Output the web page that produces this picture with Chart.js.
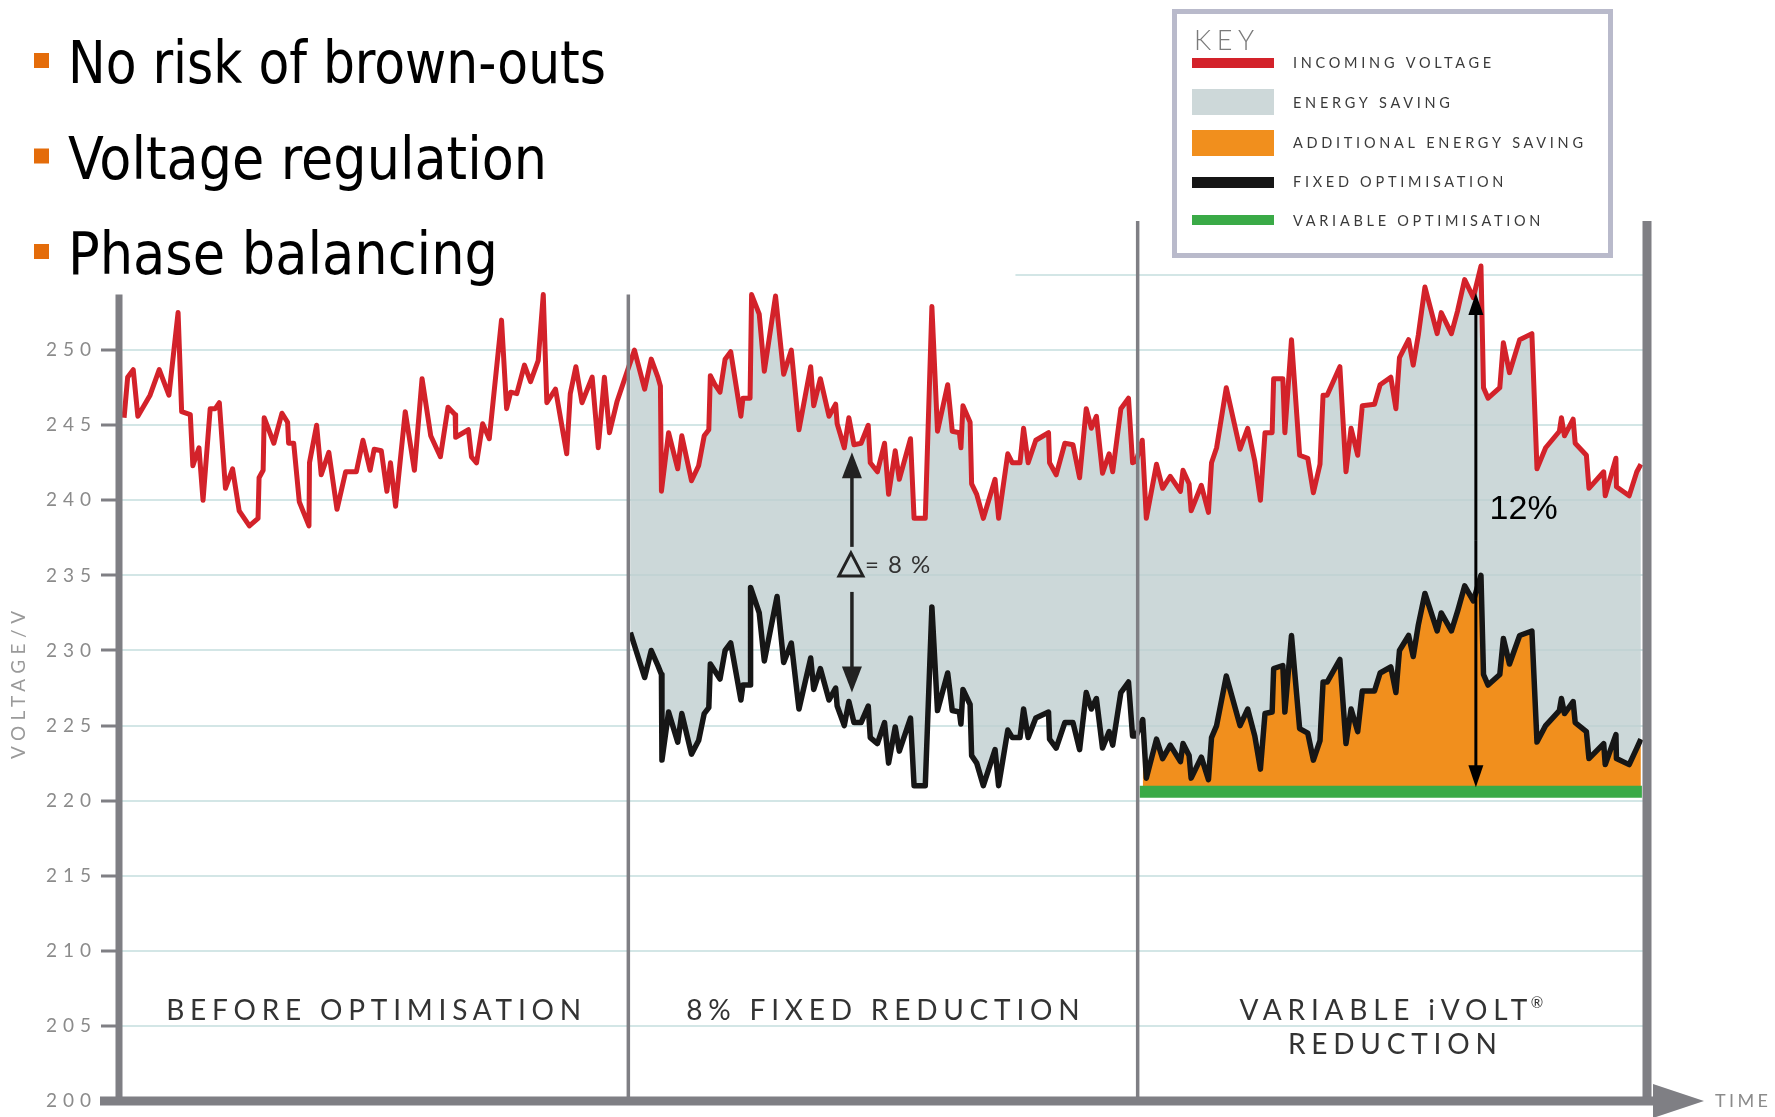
<!DOCTYPE html>
<html>
<head>
<meta charset="utf-8">
<script src="https://cdn.jsdelivr.net/npm/chart.js@4.4.1/dist/chart.umd.min.js"></script>
<style>
  html, body { margin: 0; padding: 0; background: #fff; }
</style>
</head>
<body>
<canvas id="grafico" width="1775" height="1117"></canvas>
<script>
// time axis: 0-100 before optimisation, 100-200 fixed reduction, 200-300 variable reduction
var incoming = [
  [1.0,245.5],[1.7,248.2],[2.8,248.7],[3.7,245.6],[6.1,247.0],[7.9,248.7],[9.8,247.0],[11.6,252.5],[12.3,245.9],[14.0,245.7],
  [14.5,242.3],[15.7,243.5],[16.5,240.0],[17.9,246.1],[18.9,246.1],[19.7,246.5],[20.9,240.8],[22.3,242.1],[23.6,239.3],[25.6,238.3],
  [27.3,238.8],[27.5,241.5],[28.3,242.0],[28.5,245.5],[30.4,243.8],[32.0,245.8],[33.1,245.2],[33.3,243.8],[34.3,243.8],[35.4,239.9],
  [37.3,238.3],[37.4,242.5],[38.8,245.0],[39.7,241.7],[41.2,243.2],[42.8,239.4],[44.5,241.9],[46.6,241.9],[47.9,244.0],[49.3,242.0],
  [50.1,243.4],[51.5,243.3],[52.6,240.6],[53.3,242.5],[54.3,239.6],[56.2,245.9],[58.0,242.0],[59.5,248.1],[61.2,244.3],[63.1,242.9],
  [64.6,246.2],[66.0,245.7],[66.1,244.2],[68.6,244.7],[69.2,242.9],[70.2,242.5],[71.4,245.1],[72.7,244.1],[75.1,252.0],[76.1,246.1],
  [76.9,247.2],[78.1,247.1],[79.6,249.0],[80.8,247.9],[82.3,249.3],[83.3,253.7],[84.0,246.5],[85.7,247.4],[87.9,243.1],[88.6,247.1],
  [89.7,248.9],[90.9,246.5],[92.9,248.2],[94.1,243.5],[95.3,248.2],[96.3,244.5],[97.8,246.6],[99.9,248.7],
  [101.2,250.0],[103.2,247.4],[104.5,249.4],[105.8,248.2],[106.3,247.6],[106.5,240.6],[107.9,244.5],[109.7,242.1],[110.5,244.3],[112.4,241.3],
  [113.8,242.3],[114.9,244.3],[115.8,244.7],[116.1,248.3],[117.0,247.7],[118.0,247.2],[119.0,249.4],[120.1,249.9],[122.1,245.6],[122.5,246.8],
  [123.9,246.8],[124.2,253.7],[125.7,252.4],[126.7,248.6],[128.9,253.6],[130.5,248.4],[132.0,250.0],[133.5,244.7],[135.8,248.9],[136.4,246.3],
  [137.7,248.1],[139.4,245.6],[140.7,246.4],[141.0,245.1],[142.4,243.5],[143.3,245.5],[144.3,243.7],[145.7,243.8],[147.1,245.0],[147.5,242.5],
  [148.9,241.9],[150.3,243.8],[151.1,240.4],[152.4,243.3],[153.2,241.4],[155.4,244.1],[156.1,238.8],[158.3,238.8],[159.6,252.9],[160.7,244.6],
  [162.7,247.7],[163.6,244.6],[165.0,244.5],[165.3,243.5],[165.7,246.3],[167.1,245.2],[167.4,241.1],[168.4,240.4],[169.7,238.8],[172.0,241.4],
  [172.7,238.8],[174.5,243.1],[175.4,242.5],[176.9,242.5],[177.6,244.8],[178.5,242.5],[180.0,244.0],[182.5,244.5],[182.7,242.5],[184.0,241.7],
  [185.7,243.8],[187.3,243.7],[188.6,241.5],[189.9,246.1],[190.9,244.8],[191.9,245.6],[193.1,241.8],[194.4,243.1],[195.1,241.9],[196.7,246.1],
  [198.2,246.8],[199.0,242.5],[199.7,242.6],
  [200.9,244.0],[201.7,238.8],[203.7,242.4],[204.9,240.8],[206.4,241.6],[208.4,240.6],[208.9,242.0],[210.1,241.1],[210.5,239.3],[212.5,241.0],
  [213.9,239.2],[214.5,242.5],[215.5,243.5],[217.4,247.5],[220.1,243.4],[221.6,244.8],[223.0,242.6],[224.1,240.0],[225.0,244.5],[226.4,244.5],
  [226.7,248.1],[228.5,248.1],[228.9,244.5],[230.2,250.7],[231.8,243.0],[233.4,242.8],[234.5,240.5],[235.8,242.4],[236.4,247.0],[237.2,247.0],
  [239.7,248.9],[240.9,241.9],[241.9,244.8],[243.2,243.0],[244.1,246.3],[246.5,246.4],[247.6,247.7],[249.7,248.2],[250.7,246.1],[251.4,249.5],
  [253.2,250.7],[254.1,249.0],[255.1,251.0],[256.4,254.2],[258.8,251.1],[259.6,252.5],[261.6,251.1],[262.8,252.6],[264.2,254.7],[265.9,253.5],
  [267.4,255.6],[267.9,247.5],[268.8,246.8],[271.1,247.5],[271.8,250.5],[273.0,248.5],[275.0,250.7],[277.4,251.1],[278.4,242.1],[280.1,243.5],
  [282.8,244.6],[283.2,245.5],[283.8,244.3],[285.5,245.4],[285.9,243.8],[288.1,243.0],[288.6,240.8],[291.5,241.9],[291.8,240.3],[293.9,242.8],
  [294.0,240.9],[296.5,240.3],[298.0,241.9],[298.8,242.4]
];

var fixedOpt = [
  [100.4,231.2],[103.2,228.2],[104.5,230.0],[105.8,229.0],[106.5,228.4],[106.6,222.7],[107.9,225.9],[109.7,223.9],[110.5,225.8],[112.4,223.1],
  [113.8,224.0],[114.9,225.8],[115.8,226.2],[116.1,229.1],[118.0,228.1],[119.0,230.0],[120.1,230.5],[122.1,226.7],[122.5,227.7],[123.9,227.7],
  [124.0,234.2],[125.7,232.5],[126.7,229.3],[129.2,233.6],[130.5,229.2],[132.0,230.5],[133.5,226.1],[135.8,229.5],[136.4,227.4],[137.7,228.8],
  [139.4,226.7],[140.7,227.5],[141.0,226.3],[142.4,225.0],[143.3,226.6],[144.3,225.2],[145.7,225.2],[147.1,226.3],[147.5,224.2],[148.9,223.8],
  [150.3,225.2],[151.1,222.5],[152.4,224.9],[153.2,223.3],[155.4,225.5],[156.1,221.0],[158.3,221.0],[159.6,232.9],[160.7,226.0],[162.7,228.5],
  [163.6,226.0],[165.0,225.9],[165.3,225.1],[165.7,227.4],[167.1,226.4],[167.4,223.0],[168.4,222.5],[169.7,221.0],[172.0,223.4],[172.7,221.0],
  [174.5,224.7],[175.4,224.2],[176.9,224.2],[177.6,226.1],[178.5,224.2],[180.0,225.5],[182.5,225.9],[182.7,224.1],[184.0,223.5],[185.7,225.2],
  [187.3,225.2],[188.6,223.4],[189.9,227.2],[190.9,226.1],[191.9,226.8],[193.1,223.5],[194.4,224.6],[195.1,223.7],[196.7,227.2],[198.2,227.9],
  [199.0,224.3],[199.7,224.3],
  [201.0,225.4],[201.7,221.5],[203.7,224.1],[204.9,222.8],[206.4,223.7],[208.4,222.6],[208.9,223.8],[210.1,223.0],[210.5,221.5],[212.5,222.9],
  [213.9,221.4],[214.5,224.2],[215.5,225.0],[217.4,228.3],[220.1,225.0],[221.6,226.1],[223.0,224.3],[224.1,222.1],[225.0,225.8],[226.4,225.9],
  [226.7,228.8],[228.5,229.0],[228.9,225.9],[230.2,231.0],[231.8,224.8],[233.4,224.5],[234.5,222.7],[235.8,224.0],[236.4,227.9],[237.2,227.9],
  [239.7,229.4],[240.9,223.8],[241.9,226.1],[243.2,224.6],[244.1,227.3],[246.5,227.3],[247.6,228.5],[249.7,228.9],[250.7,227.2],[251.4,230.0],
  [253.2,231.0],[254.1,229.6],[255.1,231.7],[256.4,233.8],[258.8,231.3],[259.6,232.5],[261.6,231.3],[262.8,232.6],[264.2,234.3],[265.9,233.3],
  [267.4,235.0],[267.9,228.4],[268.8,227.7],[271.1,228.4],[271.8,230.8],[273.0,229.1],[275.0,231.0],[277.4,231.3],[278.4,223.9],[280.1,225.0],
  [282.8,226.0],[283.2,226.8],[283.8,225.8],[285.5,226.6],[285.9,225.2],[288.1,224.6],[288.6,222.8],[291.5,223.8],[291.8,222.4],[293.9,224.4],
  [294.0,222.8],[296.5,222.4],[298.0,223.5],[298.8,224.1]
];

var variableLevel = 220.6;
var variableSpan = [200.4, 299.0];

var voltTicks = [200, 205, 210, 215, 220, 225, 230, 235, 240, 245, 250];
var sectionNames = [['BEFORE OPTIMISATION'], ['8% FIXED REDUCTION'], ['VARIABLE iVOLT®', 'REDUCTION']];
var sectionMid = [50, 150, 250];
var bullets = ['No risk of brown-outs', 'Voltage regulation', 'Phase balancing'];
var bulletWidth = [538, 479, 430];
var keyLabels = ['INCOMING VOLTAGE', 'ENERGY SAVING', 'ADDITIONAL ENERGY SAVING', 'FIXED OPTIMISATION', 'VARIABLE OPTIMISATION'];

var RED = '#d3222a', BLACK = '#161616', GREEN = '#3aaa47', ORANGE = '#f18f1d', GREY = '#cdd8d9';
var AXIS = '#7f7f84';
var keyColors = [RED, GREY, ORANGE, BLACK, GREEN];

function toXY(p) { return { x: p[0], y: p[1] }; }

function spacedWidth(ctx, text, sp) {
  ctx.letterSpacing = '0px';
  return ctx.measureText(text).width + sp * (text.length - 1);
}
function fitSpacing(ctx, text, target) {
  ctx.letterSpacing = '0px';
  return (target - ctx.measureText(text).width) / (text.length - 1);
}
function drawSpaced(ctx, text, x, y, sp, align) {
  var w = spacedWidth(ctx, text, sp);
  var x0 = align === 'center' ? x - w / 2 : (align === 'right' ? x - w : x);
  ctx.letterSpacing = sp + 'px';
  ctx.textAlign = 'left';
  ctx.fillText(text, x0, y);
  ctx.letterSpacing = '0px';
  return x0 + w;
}
function arrow(ctx, x, y1, y2, lw, hw, hl) {
  var dir = y2 > y1 ? 1 : -1;
  ctx.lineWidth = lw;
  ctx.beginPath();
  ctx.moveTo(x, y1);
  ctx.lineTo(x, y2 - dir * hl * 0.8);
  ctx.stroke();
  ctx.beginPath();
  ctx.moveTo(x, y2);
  ctx.lineTo(x - hw / 2, y2 - dir * hl);
  ctx.lineTo(x + hw / 2, y2 - dir * hl);
  ctx.closePath();
  ctx.fill();
}
function vline(ctx, x, y1, y2, lw) {
  ctx.lineWidth = lw;
  ctx.beginPath();
  ctx.moveTo(x, y1);
  ctx.lineTo(x, y2);
  ctx.stroke();
}

var decor = {
  id: 'decor',
  beforeDraw: function(chart) {
    // spaced-out tick labels like the original artwork
    chart.ctx.letterSpacing = '6px';
  },
  beforeDatasetsDraw: function(chart) {
    var ctx = chart.ctx, x = chart.scales.x, y = chart.scales.y;
    ctx.save();
    ctx.strokeStyle = '#d3e6e6';
    ctx.lineWidth = 2;
    ctx.beginPath();
    ctx.moveTo(x.getPixelForValue(176), y.getPixelForValue(255));
    ctx.lineTo(x.getPixelForValue(300), y.getPixelForValue(255));
    ctx.stroke();
    ctx.restore();
  },
  afterDatasetsDraw: function(chart) {
    var ctx = chart.ctx, x = chart.scales.x, y = chart.scales.y;
    var xp = function(t) { return x.getPixelForValue(t); };
    var yp = function(v) { return y.getPixelForValue(v); };
    var base = yp(200);
    ctx.save();
    ctx.letterSpacing = '0px';

    // axes and section dividers
    ctx.strokeStyle = AXIS;
    ctx.fillStyle = AXIS;
    vline(ctx, xp(0), yp(253.7), base + 4, 7);
    vline(ctx, xp(100), yp(253.7), base, 3.5);
    vline(ctx, xp(200), chart.chartArea.top, base, 3.5);
    vline(ctx, xp(300), chart.chartArea.top, base, 9);
    ctx.fillRect(100, base - 4.5, xp(300) + 8 - 100, 9);
    ctx.beginPath();
    ctx.moveTo(xp(300) + 6, base - 17);
    ctx.lineTo(xp(300) + 57, base);
    ctx.lineTo(xp(300) + 6, base + 17);
    ctx.closePath();
    ctx.fill();

    ctx.font = '400 18px Lato';
    ctx.fillStyle = '#8b8b8b';
    ctx.textBaseline = 'middle';
    drawSpaced(ctx, 'TIME', 1715, base, fitSpacing(ctx, 'TIME', 53), 'left');

    ctx.save();
    ctx.translate(19, 685);
    ctx.rotate(-Math.PI / 2);
    ctx.font = '400 19px Lato';
    ctx.fillStyle = '#9a9a9a';
    drawSpaced(ctx, 'VOLTAGE/V', 0, 0, fitSpacing(ctx, 'VOLTAGE/V', 148), 'center');
    ctx.restore();

    // section labels
    ctx.font = '400 28px Lato';
    ctx.fillStyle = '#333';
    var sp = fitSpacing(ctx, sectionNames[0][0], 415);
    sectionNames.forEach(function(lines, i) {
      lines.forEach(function(txt, j) {
        var ly = yp(206.0) + j * 34;
        if (txt.slice(-1) === '®') {
          var main = txt.slice(0, -1);
          var w = spacedWidth(ctx, main, sp) + sp + 12;
          var end = drawSpaced(ctx, main, xp(sectionMid[i]) - w / 2, ly, sp, 'left');
          ctx.font = '400 15px Lato';
          ctx.fillText('®', end + sp * 0.6, ly - 8);
          ctx.font = '400 28px Lato';
        } else {
          drawSpaced(ctx, txt, xp(sectionMid[i]), ly, sp, 'center');
        }
      });
    });

    // 8% arrows
    var ax = xp(143.9);
    ctx.strokeStyle = '#222';
    ctx.fillStyle = '#222';
    arrow(ctx, ax, yp(236.9), yp(243.2), 3.5, 20, 26);
    arrow(ctx, ax, yp(233.9), yp(227.2), 3.5, 20, 26);
    var ty = yp(235.7);
    ctx.lineWidth = 3;
    ctx.beginPath();
    ctx.moveTo(ax - 1, ty - 12);
    ctx.lineTo(ax + 11, ty + 11);
    ctx.lineTo(ax - 13, ty + 11);
    ctx.closePath();
    ctx.stroke();
    ctx.font = '400 24px Lato';
    ctx.fillStyle = '#333';
    drawSpaced(ctx, '= 8 %', ax + 13, ty, 1.5, 'left');

    // 12% arrow
    var bx = xp(266.4);
    ctx.strokeStyle = '#000';
    ctx.fillStyle = '#000';
    var mid = (yp(220.9) + yp(253.8)) / 2;
    arrow(ctx, bx, mid, yp(253.8), 3, 15, 22);
    arrow(ctx, bx, mid, yp(220.9), 3, 15, 22);
    ctx.font = '400 34px "Liberation Sans"';
    ctx.textAlign = 'left';
    ctx.fillText('12%', xp(269.1), yp(239.4));
    ctx.restore();
  },
  afterDraw: function(chart) {
    var ctx = chart.ctx;
    ctx.save();
    ctx.letterSpacing = '0px';

    // bullet list
    ctx.font = '59px "DejaVu Sans Condensed", "DejaVu Sans"';
    bullets.forEach(function(b, i) {
      var bl = 83 + i * 95.5;
      var sx = bulletWidth[i] / ctx.measureText(b).width;
      ctx.fillStyle = '#e46c0a';
      ctx.fillRect(34, bl - 30, 15, 15);
      ctx.save();
      ctx.translate(68, bl);
      ctx.scale(sx, 1);
      ctx.fillStyle = '#000';
      ctx.textBaseline = 'alphabetic';
      ctx.textAlign = 'left';
      ctx.fillText(b, 0, 0);
      ctx.restore();
    });

    // key box
    ctx.fillStyle = '#fff';
    ctx.fillRect(1174.5, 11.5, 436, 244);
    ctx.strokeStyle = '#b9bacb';
    ctx.lineWidth = 5;
    ctx.strokeRect(1174.5, 11.5, 436, 244);
    ctx.textBaseline = 'middle';
    ctx.font = '300 27px Lato';
    ctx.fillStyle = '#7a7a7a';
    drawSpaced(ctx, 'KEY', 1194, 41, fitSpacing(ctx, 'KEY', 60), 'left');

    var swatch = [[58, 10], [89, 26], [130, 26], [177, 11], [215, 10]];
    var labelY = [63, 103, 143, 182, 221];
    ctx.font = '400 14.5px Lato';
    var ksp = fitSpacing(ctx, keyLabels[2], 290);
    keyLabels.forEach(function(lbl, i) {
      ctx.fillStyle = keyColors[i];
      ctx.fillRect(1192, swatch[i][0], 82, swatch[i][1]);
      ctx.fillStyle = '#3a3a3a';
      drawSpaced(ctx, lbl, 1293, labelY[i], ksp, 'left');
    });
    ctx.restore();
  }
};

var grafico = new Chart(document.getElementById('grafico'), {
  type: 'line',
  data: {
    datasets: [
      { label: 'Incoming voltage', data: incoming.map(toXY), borderColor: RED, borderWidth: 5, fill: false, order: 1 },
      { label: 'Fixed optimisation', data: fixedOpt.map(toXY), borderColor: BLACK, borderWidth: 5.5, fill: false, order: 2 },
      { label: 'Variable optimisation',
        data: [{ x: variableSpan[0], y: variableLevel }, { x: variableSpan[1], y: variableLevel }],
        borderColor: GREEN, borderWidth: 12, borderCapStyle: 'butt', fill: false, order: 3 },
      { label: 'Energy saving', data: incoming.filter(function(p) { return p[0] >= 99; }).map(toXY),
        borderWidth: 0, backgroundColor: 'rgba(190,205,206,0.78)', fill: 1, order: 5 },
      { label: 'Additional energy saving', data: fixedOpt.filter(function(p) { return p[0] >= 200; }).map(toXY),
        borderWidth: 0, backgroundColor: ORANGE, fill: 2, order: 4 }
    ]
  },
  options: {
    responsive: false,
    animation: false,
    devicePixelRatio: 1,
    layout: { padding: { top: 221, right: 128, bottom: 16, left: 0 } },
    elements: {
      point: { radius: 0 },
      line: { tension: 0, borderJoinStyle: 'round' }
    },
    plugins: { legend: { display: false }, tooltip: { enabled: false } },
    scales: {
      x: { type: 'linear', min: 0, max: 300, display: false },
      y: {
        min: 200,
        max: 258.6,
        afterFit: function(s) { s.width = 119; },
        afterBuildTicks: function(s) { s.ticks = voltTicks.map(function(v) { return { value: v }; }); },
        ticks: { color: '#8b8b8b', font: { family: 'Lato', size: 19 }, padding: 4 },
        grid: { color: '#d3e6e6', lineWidth: 2, tickLength: 18, tickColor: AXIS, tickWidth: 3 },
        border: { display: false }
      }
    }
  },
  plugins: [decor]
});
</script>
</body>
</html>
